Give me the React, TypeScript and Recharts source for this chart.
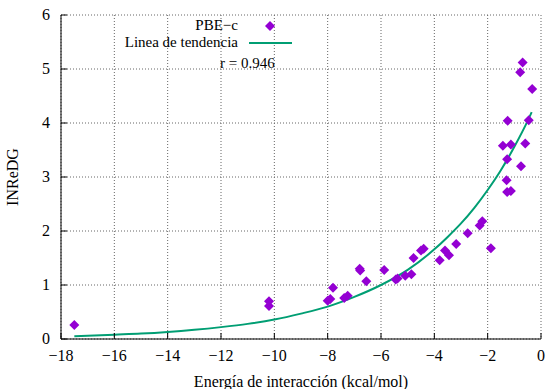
import {
  ComposedChart,
  Scatter,
  Line,
  XAxis,
  YAxis,
  CartesianGrid,
} from "recharts";

// PBE-c points (energía de interacción, INReDG)
const energia = [
  -17.5, -10.2, -10.2, -8.0, -7.9, -7.8, -7.38, -7.25, -6.8, -6.78, -6.55,
  -5.88, -5.45, -5.38, -5.09, -4.86, -4.78, -4.5, -4.4, -3.8, -3.6, -3.45,
  -3.18, -2.75, -2.3, -2.2, -1.88, -1.43, -1.25, -1.27, -1.29, -1.27, -1.13,
  -1.13, -0.75, -0.69, -0.78, -0.59, -0.46, -0.33,
];
const inredg = [
  0.26, 0.7, 0.61, 0.71, 0.74, 0.95, 0.76, 0.8, 1.3, 1.27, 1.07, 1.28, 1.1,
  1.12, 1.17, 1.2, 1.5, 1.64, 1.67, 1.46, 1.64, 1.55, 1.76, 1.96, 2.1, 2.18,
  1.68, 3.58, 4.04, 3.33, 2.94, 2.72, 2.74, 3.6, 3.2, 5.12, 4.94, 3.62, 4.05,
  4.63,
];

// trend line
const trendX = [
  -17.5, -16, -15, -14, -13, -12, -11, -10, -9, -8, -7, -6, -5, -4, -3.5, -3,
  -2.5, -2, -1.5, -1, -0.5, -0.35,
];
const trendY = [
  0.05, 0.08, 0.1, 0.13, 0.17, 0.22, 0.28, 0.36, 0.47, 0.6, 0.78, 1.0, 1.28,
  1.66, 1.89, 2.14, 2.43, 2.76, 3.13, 3.56, 4.04, 4.2,
];

const xTicks = [-18, -16, -14, -12, -10, -8, -6, -4, -2, 0];
const yTicks = [0, 1, 2, 3, 4, 5, 6];

const points = energia.map((x, i) => ({ x, y: inredg[i] }));
const trend = trendX.map((x, i) => ({ x, y: trendY[i] }));

const PURPLE = "#9400d3";
const GREEN = "#009e73";
const FONT = "'Liberation Serif', 'Times New Roman', serif";
const FS = 16;

const fmt = (v: number) => (v < 0 ? `\u2212${-v}` : `${v}`);

function Diamond(props: { cx?: number; cy?: number }) {
  const { cx = 0, cy = 0 } = props;
  const r = 5;
  return (
    <polygon
      points={`${cx},${cy - r} ${cx + r},${cy} ${cx},${cy + r} ${cx - r},${cy}`}
      fill={PURPLE}
    />
  );
}

function XTick(props: { x?: number; y?: number; payload?: { value: number } }) {
  const { x = 0, y = 0, payload } = props;
  return (
    <text x={x} y={y + 11} textAnchor="middle" fontFamily={FONT} fontSize={FS} fill="#000">
      {fmt(payload?.value ?? 0)}
    </text>
  );
}

function YTick(props: { x?: number; y?: number; payload?: { value: number } }) {
  const { x = 0, y = 0, payload } = props;
  return (
    <text x={x} y={y + 5} textAnchor="end" fontFamily={FONT} fontSize={FS} fill="#000">
      {fmt(payload?.value ?? 0)}
    </text>
  );
}

export default function App() {
  return (
    <div
      style={{
        position: "absolute",
        left: 0,
        top: 0,
        width: 546,
        height: 389,
        fontFamily: FONT,
      }}
    >
      <ComposedChart
        width={546}
        height={389}
        margin={{ top: 15, right: 5, bottom: 0, left: 0 }}
      >
        <CartesianGrid stroke="#666" strokeDasharray="1 2" />
        <XAxis
          dataKey="x"
          type="number"
          domain={[-18, 0]}
          ticks={xTicks}
          height={50}
          tick={<XTick />}
          tickSize={-6}
          tickMargin={17}
          stroke="#000"
          label={{
            value: "Energía de interacción (kcal/mol)",
            position: "insideBottom",
            offset: 2,
            style: { fontSize: FS, fill: "#000", fontFamily: FONT },
          }}
        />
        <XAxis
          xAxisId="top"
          orientation="top"
          type="number"
          domain={[-18, 0]}
          ticks={xTicks}
          height={0}
          tick={false}
          tickSize={-6}
          stroke="#000"
        />
        <YAxis
          type="number"
          domain={[0, 6]}
          ticks={yTicks}
          width={61}
          tick={<YTick />}
          tickSize={-6}
          tickMargin={17}
          stroke="#000"
          label={{
            value: "INReDG",
            angle: -90,
            position: "insideLeft",
            offset: 12,
            style: { fontSize: FS, fill: "#000", fontFamily: FONT, textAnchor: "middle" },
          }}
        />
        <YAxis
          yAxisId="right"
          orientation="right"
          type="number"
          domain={[0, 6]}
          ticks={yTicks}
          width={0}
          tick={false}
          tickSize={-6}
          stroke="#000"
        />
        <Line
          data={trend}
          dataKey="y"
          type="monotone"
          stroke={GREEN}
          strokeWidth={2}
          dot={false}
          isAnimationActive={false}
        />
        <Scatter
          data={points}
          dataKey="y"
          shape={<Diamond />}
          isAnimationActive={false}
        />
      </ComposedChart>
      <svg
        width={546}
        height={389}
        style={{ position: "absolute", left: 0, top: 0, pointerEvents: "none" }}
        fontFamily={FONT}
        fontSize={15}
      >
        <text x={238} y={30} textAnchor="end">PBE{"\u2212"}c</text>
        <Diamond cx={270} cy={26} />
        <text x={238} y={47} textAnchor="end">Linea de tendencia</text>
        <line x1={249} x2={292} y1={43} y2={43} stroke={GREEN} strokeWidth={2} />
        <text x={220} y={68}>r = 0.946</text>
      </svg>
    </div>
  );
}
